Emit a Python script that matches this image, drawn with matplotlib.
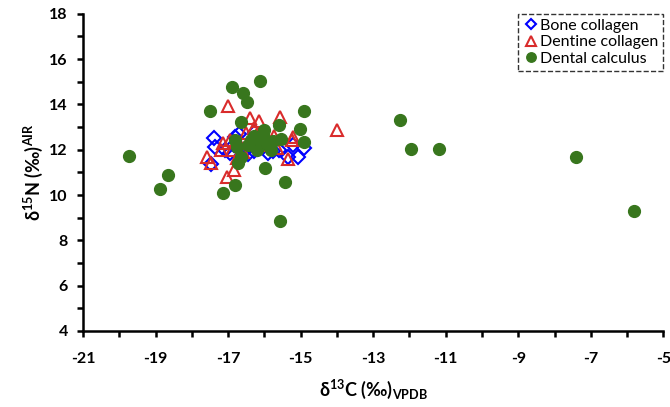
import numpy as np
import matplotlib
matplotlib.use('Agg')
from matplotlib import pyplot as plt
from matplotlib.ticker import MultipleLocator, FixedLocator

plt.rcParams['font.family'] = ['Lato', 'DejaVu Sans']
plt.rcParams['mathtext.fontset'] = 'custom'
plt.rcParams['mathtext.rm'] = 'Lato'
plt.rcParams['mathtext.bf'] = 'Lato:bold'
plt.rcParams['axes.unicode_minus'] = False

# bone collagen (d13C, d15N)
bone_x = [-17.40, -17.36, -17.47, -17.08, -16.95, -16.80, -16.70, -16.65, -16.55, -16.45, -16.30,
          -16.20, -16.05, -15.90, -15.75, -15.60, -15.36, -15.06, -14.92, -15.20, -16.85, -16.25]
bone_y = [12.51, 12.11, 11.37, 11.99, 11.85, 12.55, 12.70, 12.05, 11.90, 11.80, 11.95,
          12.05, 12.10, 11.85, 11.95, 12.00, 11.70, 11.70, 12.07, 12.20, 12.20, 12.80]

# dentine collagen
dent_x = [-16.99, -16.41, -15.57, -16.14, -16.30, -16.50, -15.24, -15.20, -17.13, -17.57, -17.48,
          -16.85, -17.04, -15.36, -15.66, -15.73, -14.00, -16.90, -16.70, -16.60, -16.20, -16.00,
          -16.75, -16.35, -17.20, -15.90, -16.95]
dent_y = [13.95, 13.39, 13.44, 13.27, 12.95, 12.75, 12.43, 12.55, 12.29, 11.70, 11.40,
          11.11, 10.79, 11.58, 12.07, 12.61, 12.88, 12.00, 12.30, 11.90, 12.70, 12.40,
          11.65, 12.50, 12.00, 12.20, 12.45]

# dental calculus
calc_x = [-19.73, -18.67, -18.88, -17.50, -16.88, -16.58, -16.49, -16.12, -14.92, -16.65, -15.60,
          -15.03, -16.03, -14.92, -15.55, -16.81, -16.37, -16.76, -16.64, -16.72, -16.21, -15.89,
          -15.82, -15.98, -15.43, -16.81, -17.13, -15.57, -12.25, -11.95, -11.19, -7.40, -5.82,
          -16.15, -16.45, -16.30, -15.75, -16.00]
calc_y = [11.74, 10.89, 10.26, 13.72, 14.76, 14.50, 14.10, 15.05, 13.72, 13.24, 13.10,
          12.91, 12.66, 12.36, 12.47, 12.43, 12.43, 12.14, 11.70, 11.40, 11.99, 12.21,
          11.99, 11.18, 10.59, 10.45, 10.11, 8.86, 13.32, 12.04, 12.02, 11.67, 9.29,
          12.45, 12.20, 12.60, 12.40, 12.85]

x_ticks = [-21, -19, -17, -15, -13, -11, -9, -7, -5]
y_ticks = [4, 6, 8, 10, 12, 14, 16, 18]

fig = plt.figure(figsize=(6.7, 4.07), dpi=100)
ax = fig.add_axes([0.124, 0.187, 0.866, 0.779])

ax.plot(bone_x, bone_y, 'D', ms=7, mfc='none', mec='#0000FF', mew=1.5, ls='none', label='Bone collagen')
ax.plot(dent_x, dent_y, '^', ms=9, mfc='none', mec='#D92B2B', mew=1.5, ls='none', label='Dentine collagen')
ax.plot(calc_x, calc_y, 'o', ms=8.5, mfc='#38761D', mec='#38761D', ls='none', label='Dental calculus')

ax.set_xlim(-21, -5)
ax.set_ylim(4, 18)
ax.xaxis.set_major_locator(FixedLocator(x_ticks))
ax.xaxis.set_minor_locator(MultipleLocator(1))
ax.yaxis.set_major_locator(FixedLocator(y_ticks))
ax.yaxis.set_minor_locator(MultipleLocator(1))
ax.tick_params(which='both', direction='out', length=4, width=1.8, color='black')
ax.tick_params(which='major', labelsize=11.5)
ax.tick_params(axis='x', which='major', pad=11)
ax.tick_params(axis='y', which='major', pad=7)
for lab in ax.get_xticklabels() + ax.get_yticklabels():
    lab.set_fontweight('bold')

for s in ['top', 'right']:
    ax.spines[s].set_visible(False)
for s in ['left', 'bottom']:
    ax.spines[s].set_linewidth(1.8)

ax.set_xlabel(r'δ$^{\mathbf{13}}$C (‰)$_{\mathbf{VPDB}}$', fontsize=13, fontweight='bold', labelpad=9)
ax.set_ylabel(r'δ$^{\mathbf{15}}$N (‰)$^{\mathbf{AIR}}$', fontsize=13, fontweight='bold', labelpad=3)

leg = ax.legend(loc='upper right', bbox_to_anchor=(1.0, 1.0), fontsize=11.5, frameon=True, fancybox=False,
                handletextpad=0.1, handlelength=1.0, borderpad=0.3, labelspacing=0.15,
                markerscale=0.8, borderaxespad=0.0)
frame = leg.get_frame()
frame.set_edgecolor('black')
frame.set_linestyle('--')
frame.set_linewidth(1.0)

fig.savefig('out.png', dpi=100)
